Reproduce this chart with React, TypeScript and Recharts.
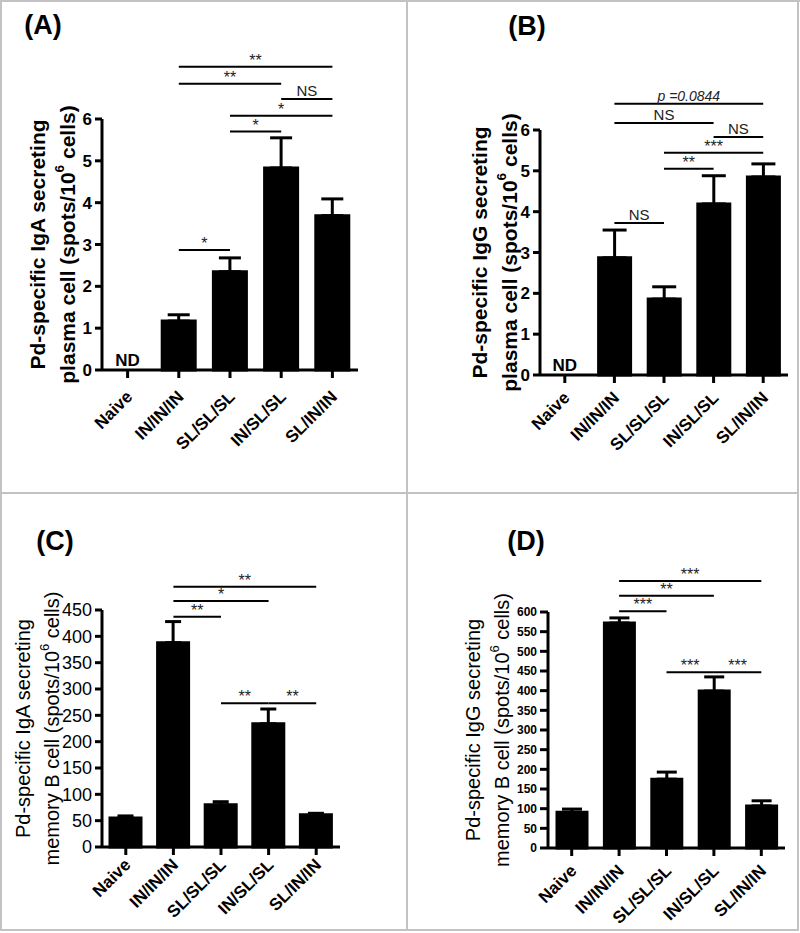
import { BarChart, Bar, XAxis, YAxis, ErrorBar, ReferenceLine, ReferenceDot } from "recharts";

const FONT = '"Liberation Sans", Arial, Helvetica, sans-serif';

const GROUPS = ["Naive", "IN/IN/IN", "SL/SL/SL", "IN/SL/SL", "SL/IN/IN"];

// (A) IgA plasma cells, (B) IgG plasma cells -- Naive not detected
const IGA_PC = [null, 1.17, 2.35, 4.83, 3.69];
const IGA_PC_SEM = [null, 0.15, 0.33, 0.72, 0.4];
const IGG_PC = [null, 2.87, 1.86, 4.19, 4.85];
const IGG_PC_SEM = [null, 0.68, 0.3, 0.69, 0.32];

// (C) IgA memory B cells, (D) IgG memory B cells
const IGA_MB = [55, 388, 80, 234, 61];
const IGA_MB_SEM = [4, 40, 6, 28, 3];
const IGG_MB = [91, 572, 175, 399, 107];
const IGG_MB_SEM = [8, 13, 18, 36, 13];

const TICKS_PC = [0, 1, 2, 3, 4, 5, 6];
const TICKS_IGA_MB = [0, 50, 100, 150, 200, 250, 300, 350, 400, 450];
const TICKS_IGG_MB = [0, 50, 100, 150, 200, 250, 300, 350, 400, 450, 500, 550, 600];

type Sig = [string, string, number, string];

const SIG_A: Sig[] = [
  ["IN/IN/IN", "SL/SL/SL", 2.87, "*"],
  ["SL/SL/SL", "IN/SL/SL", 5.7, "*"],
  ["SL/SL/SL", "SL/IN/IN", 6.08, "*"],
  ["IN/SL/SL", "SL/IN/IN", 6.48, "NS"],
  ["IN/IN/IN", "IN/SL/SL", 6.84, "**"],
  ["IN/IN/IN", "SL/IN/IN", 7.25, "**"],
];
const SIG_B: Sig[] = [
  ["IN/IN/IN", "SL/SL/SL", 3.72, "NS"],
  ["SL/SL/SL", "IN/SL/SL", 5.05, "**"],
  ["SL/SL/SL", "SL/IN/IN", 5.44, "***"],
  ["IN/SL/SL", "SL/IN/IN", 5.83, "NS"],
  ["IN/IN/IN", "IN/SL/SL", 6.17, "NS"],
  ["IN/IN/IN", "SL/IN/IN", 6.64, "p =0.0844"],
];
const SIG_C: Sig[] = [
  ["IN/IN/IN", "SL/SL/SL", 437, "**"],
  ["IN/IN/IN", "IN/SL/SL", 467, "*"],
  ["IN/IN/IN", "SL/IN/IN", 494, "**"],
  ["SL/SL/SL", "IN/SL/SL", 273, "**"],
  ["IN/SL/SL", "SL/IN/IN", 273, "**"],
];
const SIG_D: Sig[] = [
  ["IN/IN/IN", "SL/SL/SL", 602, "***"],
  ["IN/IN/IN", "IN/SL/SL", 641, "**"],
  ["IN/IN/IN", "SL/IN/IN", 679, "***"],
  ["SL/SL/SL", "IN/SL/SL", 447, "***"],
  ["IN/SL/SL", "SL/IN/IN", 447, "***"],
];

const rowsOf = (vals: (number | null)[], sems: (number | null)[]) =>
  GROUPS.map((g, i) => ({
    group: g,
    value: vals[i],
    err: sems[i] == null ? null : [0, sems[i]],
  }));

function SlantTick(props: any) {
  const { x, y, payload, dy, size } = props;
  const ax = x + 2;
  const ay = y + dy;
  return (
    <text
      x={ax}
      y={ay}
      transform={`rotate(-45 ${ax} ${ay})`}
      textAnchor="end"
      dominantBaseline="central"
      fontSize={size}
      fontWeight="bold"
      fontFamily={FONT}
      fill="#000"
    >
      {payload.value}
    </text>
  );
}

function YTitle(props: any) {
  const { viewBox, first, second, x1, x2, size, weight } = props;
  const vb = viewBox || { x: 0, y: 0, width: 0, height: 0 };
  const cy = vb.y + vb.height / 2;
  const common = {
    textAnchor: "middle" as const,
    dominantBaseline: "central" as const,
    fontSize: size,
    fontWeight: weight,
    fontFamily: FONT,
    fill: "#000",
  };
  return (
    <g>
      <text x={x1} y={cy} transform={`rotate(-90 ${x1} ${cy})`} {...common}>
        {first}
      </text>
      <text x={x2} y={cy} transform={`rotate(-90 ${x2} ${cy})`} {...common}>
        <tspan>{second}</tspan>
        <tspan dy={-8} fontSize={size * 0.65}>6</tspan>
        <tspan dy={8}> cells)</tspan>
      </text>
    </g>
  );
}

interface PanelProps {
  left: number;
  top: number;
  width: number;
  height: number;
  margin: { top: number; right: number; bottom: number; left: number };
  rows: any[];
  ticks: number[];
  yWidth: number;
  yTickSize: number;
  yTickFont: number;
  yTickWeight: string;
  xHeight: number;
  xTickDy: number;
  barSize: number;
  capWidth: number;
  sigs: Sig[];
  nd: boolean;
  title: string;
  titleX: number;
  titleY: number;
  line1: string;
  line2: string;
  labelX1: number;
  labelX2: number;
  labelSize: number;
  labelWeight: string;
}

function Panel(p: PanelProps) {
  const axisStroke = { stroke: "#000", strokeWidth: 3 };
  return (
    <div style={{ position: "absolute", left: p.left, top: p.top, width: p.width, height: p.height }}>
      <div
        style={{
          position: "absolute",
          left: p.titleX - 50,
          top: p.titleY - 24,
          width: 100,
          textAlign: "center",
          fontFamily: FONT,
          fontSize: 27,
          lineHeight: "30px",
          fontWeight: "bold",
        }}
      >
        {p.title}
      </div>
      <BarChart width={p.width} height={p.height} data={p.rows} margin={p.margin}>
        <XAxis
          dataKey="group"
          height={p.xHeight}
          interval={0}
          tickSize={8}
          axisLine={axisStroke}
          tickLine={axisStroke}
          tick={<SlantTick dy={p.xTickDy} size={17} />}
        />
        <YAxis
          width={p.yWidth}
          domain={[0, p.ticks[p.ticks.length - 1]]}
          ticks={p.ticks}
          interval={0}
          tickSize={p.yTickSize}
          tickMargin={3}
          axisLine={axisStroke}
          tickLine={axisStroke}
          tick={{ fontSize: p.yTickFont, fontWeight: p.yTickWeight, fill: "#000", fontFamily: FONT }}
          label={
            <YTitle
              first={p.line1}
              second={p.line2}
              x1={p.labelX1}
              x2={p.labelX2}
              size={p.labelSize}
              weight={p.labelWeight}
            />
          }
        />
        <Bar
          dataKey="value"
          fill="#000"
          stroke="#000"
          strokeWidth={3}
          barSize={p.barSize}
          isAnimationActive={false}
        >
          <ErrorBar
            dataKey="err"
            direction="y"
            width={p.capWidth}
            stroke="#000"
            strokeWidth={3}
            isAnimationActive={false}
          />
        </Bar>
        {p.sigs.map(([from, to, h, text]) => (
          <ReferenceLine
            key={`${from}-${to}-${h}`}
            segment={[
              { x: from, y: h },
              { x: to, y: h },
            ]}
            stroke="#000"
            strokeWidth={2}
            ifOverflow="visible"
            label={{
              value: text,
              position: "top",
              offset: text.startsWith("*") ? 1 : 3,
              fontSize: text.startsWith("p") ? 14 : text === "NS" ? 15 : 16,
              fontStyle: text.startsWith("p") ? "italic" : "normal",
              fill: "#222",
              fontFamily: FONT,
            }}
          />
        ))}
        {p.nd && (
          <ReferenceDot
            x="Naive"
            y={0}
            r={0}
            fill="none"
            stroke="none"
            ifOverflow="visible"
            label={{ value: "ND", position: "top", offset: 4, fontSize: 17, fontWeight: "bold", fill: "#000", fontFamily: FONT }}
          />
        )}
      </BarChart>
    </div>
  );
}

const line = (style: any) => <div style={{ position: "absolute", background: "#c2c2c2", ...style }} />;

export default function App() {
  return (
    <div style={{ position: "absolute", left: 0, top: 0, width: 800, height: 933, background: "#fff", fontFamily: FONT }}>
      {line({ left: 0, top: 0, width: 800, height: 2 })}
      {line({ left: 0, top: 0, width: 2, height: 931 })}
      {line({ left: 797, top: 0, width: 2, height: 931 })}
      {line({ left: 0, top: 929, width: 799, height: 2 })}
      {line({ left: 406, top: 0, width: 2, height: 931 })}
      {line({ left: 0, top: 492, width: 799, height: 2 })}

      <Panel
        left={0}
        top={0}
        width={400}
        height={493}
        margin={{ top: 119, right: 42, bottom: 0, left: 0 }}
        rows={rowsOf(IGA_PC, IGA_PC_SEM)}
        ticks={TICKS_PC}
        yWidth={102}
        yTickSize={7}
        yTickFont={17}
        yTickWeight="bold"
        xHeight={123}
        xTickDy={14}
        barSize={33}
        capWidth={11}
        sigs={SIG_A}
        nd
        title="(A)"
        titleX={43}
        titleY={34}
        line1="Pd-specific IgA secreting"
        line2="plasma cell (spots/10"
        labelX1={37}
        labelX2={67}
        labelSize={21}
        labelWeight="bold"
      />
      <Panel
        left={407}
        top={0}
        width={393}
        height={493}
        margin={{ top: 130, right: 12, bottom: 0, left: 0 }}
        rows={rowsOf(IGG_PC, IGG_PC_SEM)}
        ticks={TICKS_PC}
        yWidth={133}
        yTickSize={7}
        yTickFont={17}
        yTickWeight="bold"
        xHeight={118}
        xTickDy={10}
        barSize={32}
        capWidth={12}
        sigs={SIG_B}
        nd
        title="(B)"
        titleX={120}
        titleY={35}
        line1="Pd-specific IgG secreting"
        line2="plasma cell (spots/10"
        labelX1={72}
        labelX2={102}
        labelSize={21}
        labelWeight="bold"
      />
      <Panel
        left={0}
        top={493}
        width={407}
        height={437}
        margin={{ top: 117, right: 67, bottom: 0, left: 0 }}
        rows={rowsOf(IGA_MB, IGA_MB_SEM)}
        ticks={TICKS_IGA_MB}
        yWidth={102}
        yTickSize={7}
        yTickFont={18}
        yTickWeight="normal"
        xHeight={83}
        xTickDy={5}
        barSize={31}
        capWidth={8}
        sigs={SIG_C}
        nd={false}
        title="(C)"
        titleX={55}
        titleY={57}
        line1="Pd-specific IgA secreting"
        line2="memory B cell (spots/10"
        labelX1={23}
        labelX2={52}
        labelSize={20}
        labelWeight="normal"
      />
      <Panel
        left={407}
        top={493}
        width={393}
        height={437}
        margin={{ top: 119, right: 15, bottom: 0, left: 0 }}
        rows={rowsOf(IGG_MB, IGG_MB_SEM)}
        ticks={TICKS_IGG_MB}
        yWidth={141}
        yTickSize={8}
        yTickFont={12}
        yTickWeight="bold"
        xHeight={82}
        xTickDy={10}
        barSize={30}
        capWidth={10}
        sigs={SIG_D}
        nd={false}
        title="(D)"
        titleX={119}
        titleY={57}
        line1="Pd-specific IgG secreting"
        line2="memory B cell (spots/10"
        labelX1={66}
        labelX2={95}
        labelSize={20}
        labelWeight="normal"
      />
    </div>
  );
}
